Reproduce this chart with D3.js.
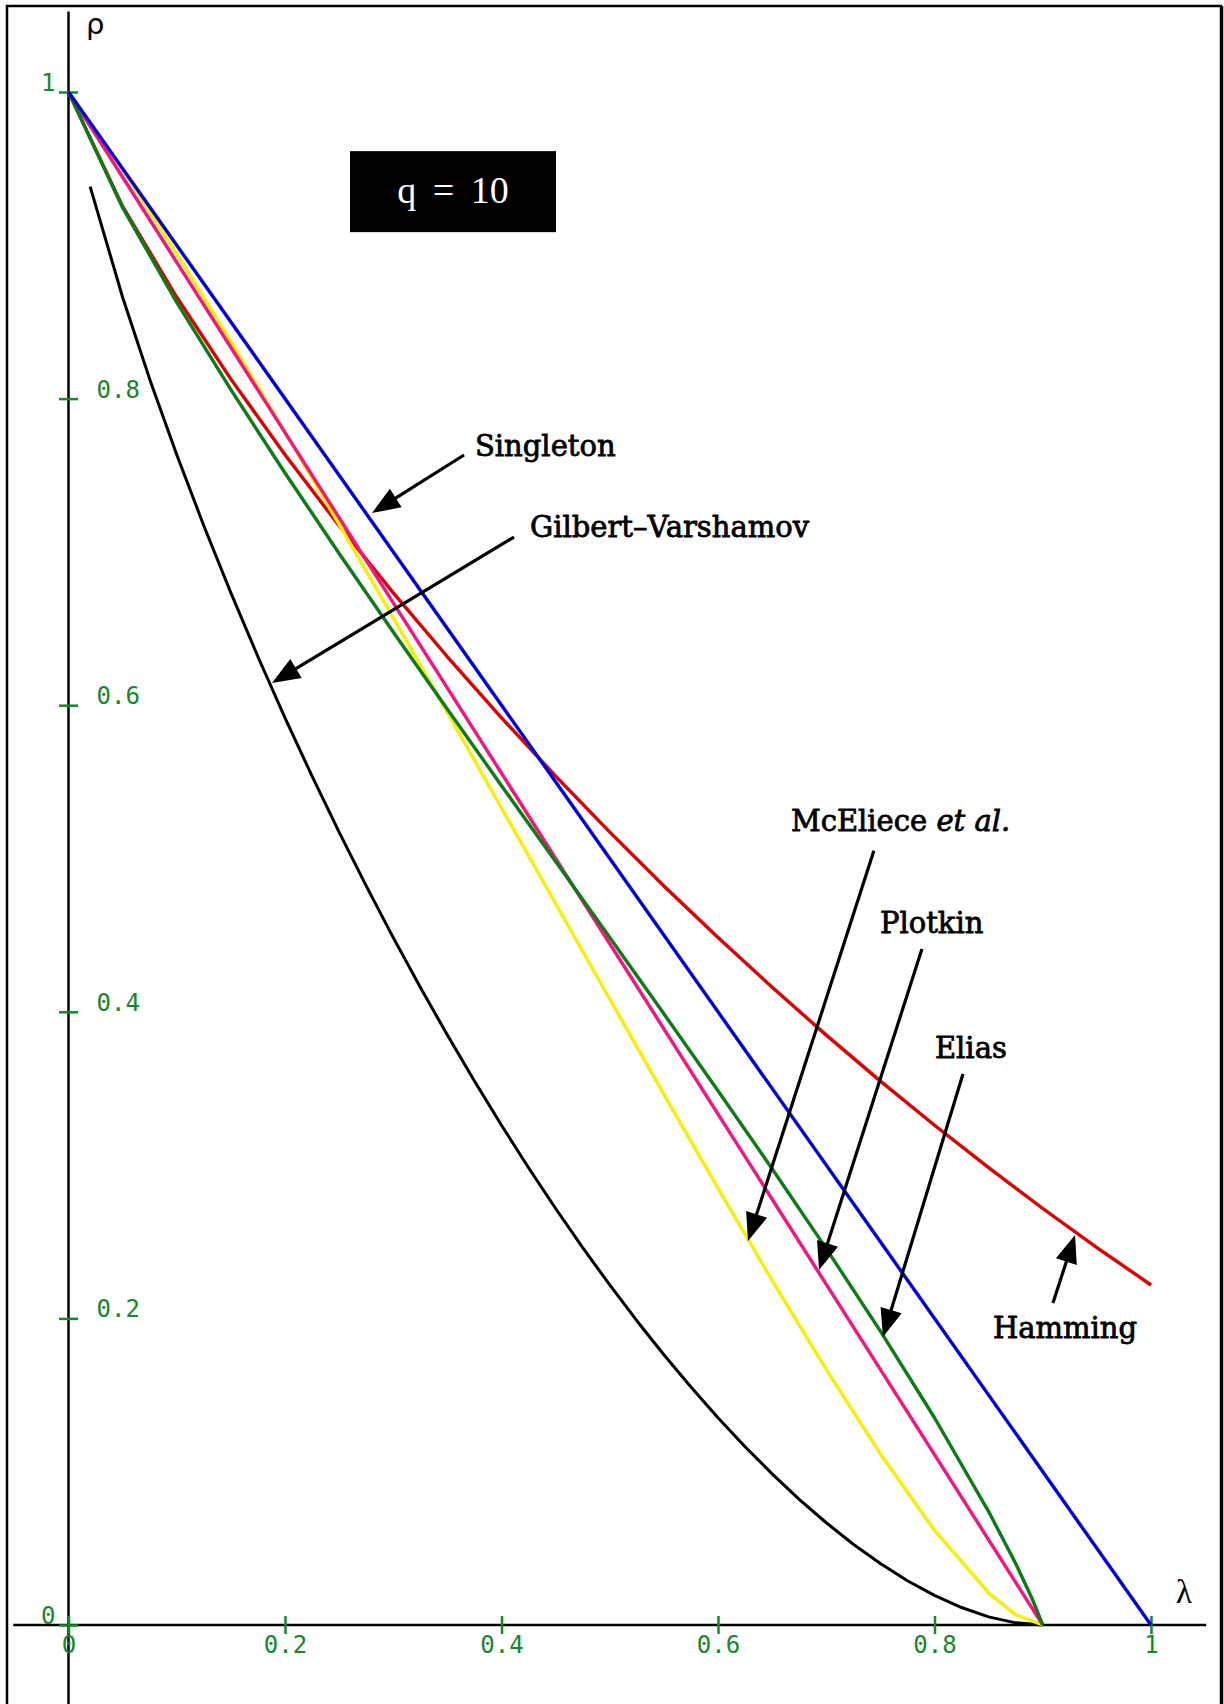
<!DOCTYPE html>
<html>
<head>
<meta charset="utf-8">
<script src="https://cdn.jsdelivr.net/npm/d3@7"></script>
<style>
  html, body { margin: 0; padding: 0; background: #fff; }
  svg { display: block; }
</style>
</head>
<body>
<svg id="chart" width="1224" height="1704"></svg>
<script>
// Asymptotic bounds on the rate ρ versus relative distance λ for q = 10 codes.

// Singleton bound
const singletonLambda = [0, 0.25, 0.5, 0.75, 1];
const singletonRho    = [1, 0.75, 0.5, 0.25, 0];

// Hamming (sphere-packing) bound
const hammingLambda = [0, 0.05, 0.1, 0.15, 0.2, 0.25, 0.3, 0.35, 0.4, 0.45, 0.5,
                       0.55, 0.6, 0.65, 0.7, 0.75, 0.8, 0.85, 0.9, 0.95, 1];
const hammingRho    = [1, 0.9254, 0.8661, 0.8127, 0.7634, 0.7171, 0.6733, 0.6316, 0.5918, 0.5537, 0.5172,
                       0.4821, 0.4484, 0.4160, 0.3848, 0.3548, 0.3260, 0.2983, 0.2717, 0.2462, 0.2218];

// Gilbert–Varshamov bound
const gvLambda = [0.02, 0.05, 0.075, 0.1, 0.125, 0.15, 0.175, 0.2, 0.225, 0.25, 0.275, 0.3,
                  0.325, 0.35, 0.375, 0.4, 0.425, 0.45, 0.475, 0.5, 0.525, 0.55, 0.575, 0.6,
                  0.625, 0.65, 0.675, 0.7, 0.725, 0.75, 0.775, 0.8, 0.825, 0.85, 0.875, 0.9];
const gvRho    = [0.9383, 0.8661, 0.8127, 0.7634, 0.7171, 0.6733, 0.6316, 0.5918, 0.5537, 0.5172, 0.4821, 0.4484,
                  0.4160, 0.3848, 0.3548, 0.3260, 0.2983, 0.2717, 0.2462, 0.2218, 0.1985, 0.1763, 0.1552, 0.1352,
                  0.1163, 0.0986, 0.0820, 0.0667, 0.0527, 0.0401, 0.0289, 0.0193, 0.0114, 0.0053, 0.0014, 0];

// Plotkin bound
const plotkinLambda = [0, 0.1, 0.2, 0.3, 0.4, 0.5, 0.6, 0.7, 0.8, 0.9];
const plotkinRho    = [1, 0.8889, 0.7778, 0.6667, 0.5556, 0.4444, 0.3333, 0.2222, 0.1111, 0];

// Elias bound
const eliasLambda = [0, 0.05, 0.1, 0.15, 0.2, 0.25, 0.3, 0.35, 0.4, 0.45, 0.5,
                     0.55, 0.6, 0.65, 0.7, 0.75, 0.8, 0.85, 0.875, 0.89, 0.9];
const eliasRho    = [1, 0.9245, 0.8628, 0.8058, 0.7515, 0.6990, 0.6478, 0.5974, 0.5475, 0.4980, 0.4484,
                     0.3987, 0.3485, 0.2976, 0.2455, 0.1917, 0.1352, 0.0740, 0.0401, 0.0175, 0];

// McEliece–Rodemich–Rumsey–Welch (linear programming) bound
const mrrwLambda = [0, 0.05, 0.1, 0.15, 0.2, 0.25, 0.3, 0.35, 0.4, 0.45, 0.5,
                    0.55, 0.6, 0.65, 0.7, 0.75, 0.8, 0.85, 0.875, 0.9];
const mrrwRho    = [1, 0.9495, 0.8945, 0.8371, 0.7782, 0.7180, 0.6569, 0.5951, 0.5329, 0.4705, 0.4082,
                    0.3461, 0.2848, 0.2247, 0.1666, 0.1116, 0.0617, 0.0209, 0.0066, 0];

// Axis ticks
const xTickValues = [0, 0.2, 0.4, 0.6, 0.8, 1];
const xTickLabels = ["0", "0.2", "0.4", "0.6", "0.8", "1"];
const yTickValues = [0, 0.2, 0.4, 0.6, 0.8, 1];
const yTickLabels = ["0", "0.2", "0.4", "0.6", "0.8", "1"];

// Curve annotations: label anchor, arrow tail and arrow tip, all in (λ, ρ)
const noteNames  = ["Singleton", "Gilbert–Varshamov", "McEliece", "Plotkin", "Elias", "Hamming"];
const noteLabelAt = [[0.3755, 0.7628], [0.4263, 0.7097], [0.6674, 0.518], [0.7496, 0.4515], [0.8004, 0.3699], [0.854, 0.1875]];
const noteTail    = [[0.3654, 0.7632], [0.4116, 0.7097], [0.744, 0.505], [0.7884, 0.441], [0.8263, 0.3594], [0.9094, 0.210]];
const noteTip     = [[0.2804, 0.7254], [0.188, 0.6145], [0.6277, 0.2505], [0.6933, 0.2316], [0.7524, 0.1879], [0.9298, 0.2544]];

const svg = d3.select("#chart");
const W = 1224, H = 1704;

const x = d3.scaleLinear().domain([0, 1]).range([68.5, 1151]);
const y = d3.scaleLinear().domain([0, 1]).range([1625, 92]);

const tickGreen = "#13892b";
const monoFont = "'DejaVu Sans Mono', monospace";
const serifFont = "'DejaVu Serif', serif";

// Page frame
svg.append("rect")
  .attr("x", 7).attr("y", 6).attr("width", 1214).attr("height", H + 20)
  .attr("fill", "none").attr("stroke", "#000").attr("stroke-width", 2.5);
svg.append("line")
  .attr("x1", 1222).attr("x2", 1222).attr("y1", 6).attr("y2", H)
  .attr("stroke", "#000").attr("stroke-width", 2.5);

// Axis lines
svg.append("line")
  .attr("x1", x(0)).attr("x2", x(0)).attr("y1", y(1.0525)).attr("y2", H)
  .attr("stroke", "#000").attr("stroke-width", 2.5);
svg.append("line")
  .attr("x1", x(-0.051)).attr("x2", x(1.051)).attr("y1", y(0)).attr("y2", y(0))
  .attr("stroke", "#000").attr("stroke-width", 2.5);

// X axis ticks and labels
const gx = svg.append("g")
  .attr("transform", `translate(0,${y(0)})`)
  .call(d3.axisBottom(x).tickValues(xTickValues).tickFormat((d, i) => xTickLabels[i]).tickSizeOuter(0));
gx.select(".domain").remove();
gx.selectAll(".tick line")
  .attr("y1", -9).attr("y2", 9)
  .attr("stroke", tickGreen).attr("stroke-width", 2.5);
gx.selectAll(".tick text")
  .attr("y", 28).attr("dy", null)
  .attr("fill", tickGreen)
  .style("font-family", monoFont).style("font-size", "24px");

// Y axis ticks and labels
const gy = svg.append("g")
  .attr("transform", `translate(${x(0)},0)`)
  .call(d3.axisRight(y).tickValues(yTickValues).tickFormat((d, i) => yTickLabels[i]).tickSizeOuter(0));
gy.select(".domain").remove();
gy.selectAll(".tick line")
  .attr("x1", -9.5).attr("x2", 9.5)
  .attr("stroke", tickGreen).attr("stroke-width", 2.5);
gy.selectAll(".tick text")
  .attr("dy", null)
  .attr("y", -1.5)
  .attr("x", d => (d === 0 || d === 1) ? -13 : 28)
  .attr("text-anchor", d => (d === 0 || d === 1) ? "end" : "start")
  .attr("fill", tickGreen)
  .style("font-family", monoFont).style("font-size", "24px");

// Axis titles
svg.append("text")
  .attr("x", x(0) + 17.5).attr("y", 34)
  .style("font-family", "'DejaVu Sans', sans-serif").style("font-size", "29px")
  .text("ρ");
svg.append("text")
  .attr("x", x(1) + 25).attr("y", y(0) - 22)
  .style("font-family", "'Liberation Serif', serif").style("font-size", "33px")
  .text("λ");

// Bound curves
const line = d3.line().x(d => x(d[0])).y(d => y(d[1])).curve(d3.curveLinear);
const series = [
  { lam: gvLambda,        rho: gvRho,        color: "#000000", width: 3 },
  { lam: hammingLambda,   rho: hammingRho,   color: "#e00000", width: 3.4 },
  { lam: mrrwLambda,      rho: mrrwRho,      color: "#f7f000", width: 3.4 },
  { lam: plotkinLambda,   rho: plotkinRho,   color: "#fa127f", width: 3.4 },
  { lam: eliasLambda,     rho: eliasRho,     color: "#0b7d15", width: 3.4 },
  { lam: singletonLambda, rho: singletonRho, color: "#0000e6", width: 3.4 }
];
svg.append("g").selectAll("path")
  .data(series)
  .join("path")
  .attr("d", s => line(s.lam.map((l, i) => [l, s.rho[i]])))
  .attr("fill", "none")
  .attr("stroke", s => s.color)
  .attr("stroke-width", s => s.width)
  .attr("stroke-linejoin", "round");

// Alphabet-size box
const qBox = svg.append("g").attr("transform", `translate(${x(0.3552)},${y(0.935)})`);
qBox.append("rect")
  .attr("x", -103).attr("y", -40.5).attr("width", 206).attr("height", 81)
  .attr("fill", "#000");
qBox.append("text")
  .attr("x", 0).attr("y", 11).attr("text-anchor", "middle")
  .attr("fill", "#fff")
  .style("font-family", "'Liberation Serif', serif").style("font-size", "38px")
  .style("word-spacing", "7px")
  .text("q = 10");

// Annotation arrows
const notes = svg.append("g");
noteNames.forEach((name, i) => {
  const [tx, ty] = [x(noteTail[i][0]), y(noteTail[i][1])];
  const [px, py] = [x(noteTip[i][0]), y(noteTip[i][1])];
  const len = Math.hypot(px - tx, py - ty);
  const ux = (px - tx) / len, uy = (py - ty) / len;
  const headLen = 28, headHalf = 11;
  const bx = px - ux * headLen, by = py - uy * headLen;
  notes.append("line")
    .attr("x1", tx).attr("y1", ty).attr("x2", bx + ux * 2).attr("y2", by + uy * 2)
    .attr("stroke", "#000").attr("stroke-width", 3.2);
  notes.append("path")
    .attr("d", d3.line()([[px, py], [bx - uy * headHalf, by + ux * headHalf], [bx + uy * headHalf, by - ux * headHalf]]) + "Z")
    .attr("fill", "#000");

  const t = notes.append("text")
    .attr("x", x(noteLabelAt[i][0])).attr("y", y(noteLabelAt[i][1]))
    .attr("fill", "#000").attr("stroke", "#000").attr("stroke-width", 0.8)
    .style("font-family", serifFont).style("font-size", "29px");
  if (name === "McEliece") {
    t.append("tspan").text("McEliece ");
    t.append("tspan").style("font-style", "italic").text("et al.");
  } else {
    t.text(name);
  }
});
</script>
</body>
</html>
